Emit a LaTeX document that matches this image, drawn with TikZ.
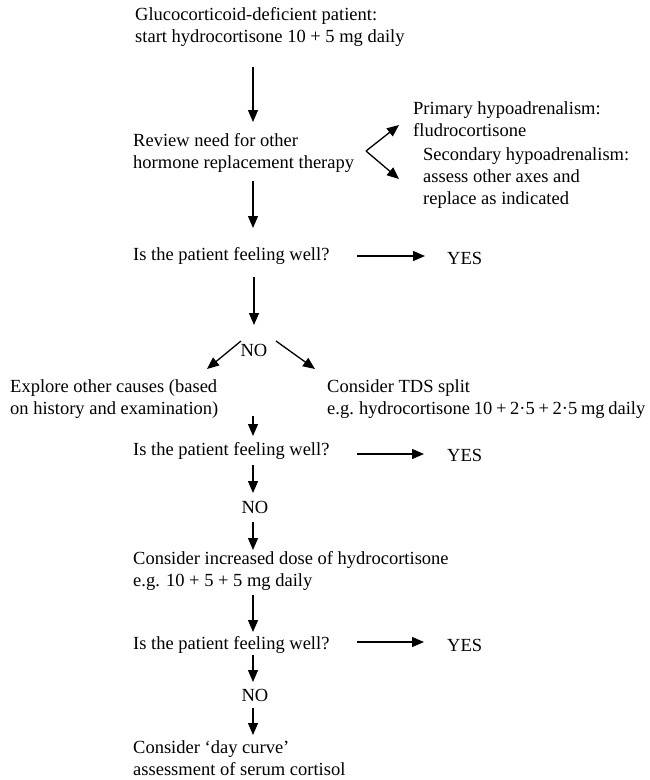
\documentclass[tikz,border=0pt]{standalone}
\usepackage{fontspec}
\setmainfont{Liberation Serif}
\usetikzlibrary{arrows.meta}
\begin{document}
\begin{tikzpicture}[x=1pt,y=-1pt,
  txt/.style={anchor=west,align=left,inner sep=0pt,font=\fontsize{18.5}{22}\selectfont},
  ctxt/.style={anchor=center,inner sep=0pt,font=\fontsize{18.5}{22}\selectfont},
  arr/.style={-{Triangle[width=10pt,length=12pt]},line width=1.3pt}]
\useasboundingbox (0,0) rectangle (650,780);
% text nodes
\node[txt] (title) at (135,27) {Glucocorticoid-deficient patient:\\start hydrocortisone 10 + 5 mg daily};
\node[txt] (review) at (133,153) {Review need for other\\hormone replacement therapy};
\node[txt] (primary) at (413,119) {Primary hypoadrenalism:\\fludrocortisone};
\node[txt] (secondary) at (423,178) {Secondary hypoadrenalism:\\assess other axes and\\replace as indicated};
\node[txt] (q1) at (133,256) {Is the patient feeling well?};
\node[txt] (yes1) at (447,258) {YES};
\node[ctxt] (no1) at (254,350) {NO};
\node[txt] (explore) at (10,399) {Explore other causes (based\\on history and examination)};
\node[txt] (tds) at (327,399) {Consider TDS split\\{\spaceskip=0.2em\relax e.g. hydrocortisone 10 + 2·5 + 2·5 mg daily}};
\node[txt] (q2) at (133,451) {Is the patient feeling well?};
\node[txt] (yes2) at (447,455) {YES};
\node[ctxt] (no2) at (255,507) {NO};
\node[txt] (incr) at (133,571) {Consider increased dose of hydrocortisone\\e.g. 10 + 5 + 5 mg daily};
\node[txt] (q3) at (133,645) {Is the patient feeling well?};
\node[txt] (yes3) at (447,645) {YES};
\node[ctxt] (no3) at (255,695) {NO};
\node[txt] (day) at (133,758) {Consider ‘day curve’\\assessment of serum cortisol};
% connector end points
\coordinate (a1s) at (253,67);  \coordinate (a1e) at (253,122);
\coordinate (fork) at (366,151);
\coordinate (fu) at (399,125);  \coordinate (fd) at (399,179);
\coordinate (a2s) at (253,181); \coordinate (a2e) at (253,228);
\coordinate (y1s) at (357,256); \coordinate (y1e) at (425,256);
\coordinate (a3s) at (254,277); \coordinate (a3e) at (254,325);
\coordinate (dls) at (241,341); \coordinate (dle) at (207,369);
\coordinate (drs) at (276,341); \coordinate (dre) at (315,369);
\coordinate (a4s) at (253,416); \coordinate (a4e) at (253,436);
\coordinate (y2s) at (357,454); \coordinate (y2e) at (424,454);
\coordinate (a5s) at (253,465); \coordinate (a5e) at (253,493);
\coordinate (a6s) at (253,522); \coordinate (a6e) at (253,550);
\coordinate (a7s) at (253,595); \coordinate (a7e) at (253,632);
\coordinate (y3s) at (357,642); \coordinate (y3e) at (424,642);
\coordinate (a8s) at (253,655); \coordinate (a8e) at (253,682);
\coordinate (a9s) at (253,708); \coordinate (a9e) at (253,735);
% connectors
\draw[arr] (a1s) -- (a1e);
\draw[arr] (fork) -- (fu);
\draw[arr] (fork) -- (fd);
\draw[arr] (a2s) -- (a2e);
\draw[arr] (y1s) -- (y1e);
\draw[arr] (a3s) -- (a3e);
\draw[arr] (dls) -- (dle);
\draw[arr] (drs) -- (dre);
\draw[arr] (a4s) -- (a4e);
\draw[arr] (y2s) -- (y2e);
\draw[arr] (a5s) -- (a5e);
\draw[arr] (a6s) -- (a6e);
\draw[arr] (a7s) -- (a7e);
\draw[arr] (y3s) -- (y3e);
\draw[arr] (a8s) -- (a8e);
\draw[arr] (a9s) -- (a9e);
\end{tikzpicture}
\end{document}
